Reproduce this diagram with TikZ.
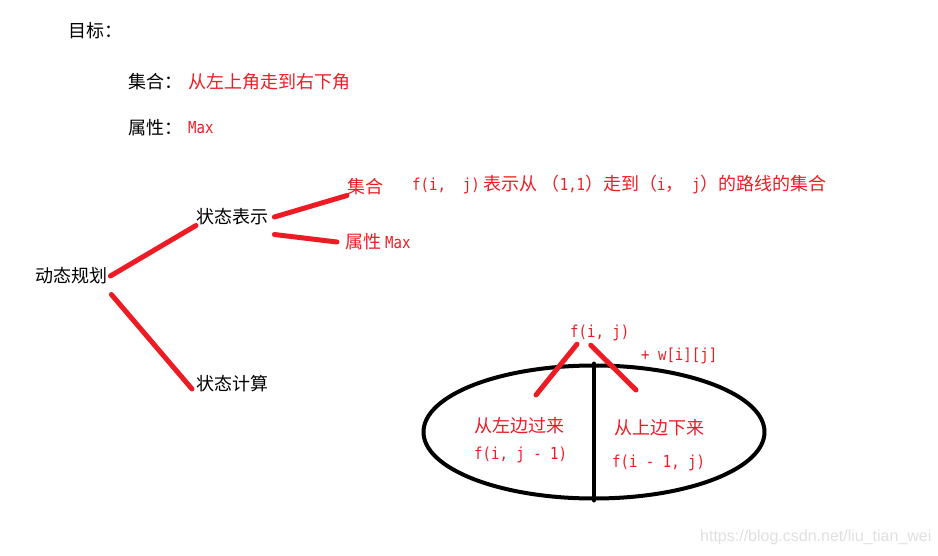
\documentclass[tikz,border=0pt]{standalone}
\usepackage{fontspec}
\setmainfont{Noto Sans CJK SC}
\newfontfamily\mono[FakeStretch=0.85]{DejaVu Sans Mono}
\newfontfamily\wmfont{Liberation Sans}
\usetikzlibrary{shapes.geometric}
\definecolor{hong}{RGB}{237,28,36}
\newcommand\ms{\mono\fontsize{16.5}{16.5}\selectfont}
\tikzset{%
    hei/.style={anchor=west, inner sep=0pt, font=\fontsize{18}{18}\selectfont},
    hz/.style={hei, text=hong},
    hm/.style={hz, font=\ms},
    pr/.style={draw=hong, line width=5pt},
    hx/.style={draw=black, line width=4pt}
}
\begin{document}
\begin{tikzpicture}[x=1pt,y=-1pt,line cap=round]
    \useasboundingbox (0,0) rectangle (938,555);
    % goal
    \node[hei] (mb) at (68,31) {目标：};
    \node[hei] (jh) at (128,82) {集合：};
    \node[hz] (jhz) at (188,82) {从左上角走到右下角};
    \node[hei] (sx) at (128,128) {属性：};
    \node[hm] (sxz) at (188,128) {Max};
    % tree
    \node[hei] (dp) at (35,276) {动态规划};
    \node[hei] (bs) at (196,217) {状态表示};
    \node[hei] (js) at (196,384) {状态计算};
    \node[hz] (jh2) at (347,187) {集合};
    \node[hz] (jhs) at (412,185) {{\ms f(i,\ \ j)} 表示从 （{\ms 1,1}）走到（{\ms i}，{\ms\ j}）的路线的集合};
    \node[hz] (sx2) at (345,242) {属性 {\ms Max}};
    \draw[pr] ([xshift=3pt]dp.east) -- (bs.south west);
    \draw[pr] ([shift={(4pt,-10pt)}]dp.south east) -- ([shift={(-4pt,-5pt)}]js.west);
    \draw[pr] ([xshift=6pt]bs.east) -- (jh2.south west);
    \draw[pr] ([shift={(6pt,-9pt)}]bs.south east) -- ([xshift=-8pt]sx2.west);
    % state computation
    \node[ellipse, hx, minimum width=341pt, minimum height=133pt] (ov) at (594,432) {};
    \draw[hx] (ov.north) -- (ov.south);
    \node[hm] (fij) at (570,333) {f(i,\ j)};
    \node[hm] (w) at (641,356) {+ w[i][j]};
    \coordinate (zd) at (536,395);
    \coordinate (yd) at (636,390);
    \draw[pr] ([shift={(7pt,-3pt)}]fij.south west) -- (zd);
    \draw[pr] ([shift={(-9pt,-4pt)}]fij.south) -- (yd);
    \node[hz] (zb) at (474,426) {从左边过来};
    \node[hm] (zf) at (474,455) {f(i, j - 1)};
    \node[hz] (sb) at (614,428) {从上边下来};
    \node[hm] (sf) at (612,463) {f(i - 1, j)};
    % watermark
    \node[anchor=west, inner sep=0pt, text=black!12, font=\wmfont\fontsize{16}{16}\selectfont] (wm) at (700,537) {https://blog.csdn.net/liu\_tian\_wei};
\end{tikzpicture}
\end{document}
